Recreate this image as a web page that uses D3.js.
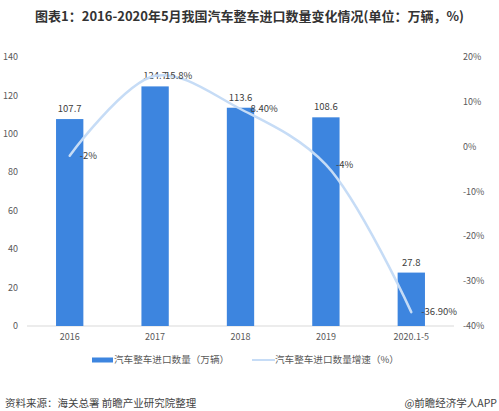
<!DOCTYPE html>
<html>
<head>
<meta charset="utf-8">
<script src="https://cdn.jsdelivr.net/npm/d3@7"></script>
<style>
  body { margin: 0; background: #fff; }
  svg { display: block; font-family: "Noto Sans CJK SC", "Noto Sans", sans-serif; }
</style>
</head>
<body>
<div id="chart"></div>
<script>
const categories = ["2016", "2017", "2018", "2019", "2020.1-5"];
const volumes = [107.7, 124.7, 113.6, 108.6, 27.8];
const growth = [-2, 15.8, 8.4, -4, -36.9];
const growthLabels = ["-2%", "15.8%", "8.40%", "-4%", "-36.90%"];
const leftTicks = [0, 20, 40, 60, 80, 100, 120, 140];
const rightTicks = [-40, -30, -20, -10, 0, 10, 20];

const width = 499, height = 411;
const margin = { left: 27, right: 45, top: 57, bottom: 85 };
const barColor = "#3d85df";
const lineColor = "#c6dcf6";
const textColor = "#595959";

const svg = d3.select("#chart").append("svg")
    .attr("width", width)
    .attr("height", height);

// title
svg.append("text")
    .attr("x", width / 2).attr("y", 21)
    .attr("text-anchor", "middle")
    .attr("font-size", "13px").attr("font-weight", "bold").attr("fill", "#333")
    .text("图表1：2016-2020年5月我国汽车整车进口数量变化情况(单位：万辆，%)");

const x = d3.scaleBand()
    .domain(categories)
    .range([margin.left, width - margin.right])
    .paddingInner(0.68).paddingOuter(0.34);

const y = d3.scaleLinear().domain([0, 140]).range([height - margin.bottom, margin.top]);
const y2 = d3.scaleLinear().domain([-40, 20]).range([height - margin.bottom, margin.top]);

// left axis labels
svg.append("g").selectAll("text")
    .data(leftTicks).join("text")
    .attr("x", 18).attr("y", d => y(d))
    .attr("dy", "0.35em").attr("text-anchor", "end")
    .attr("font-size", "9px").attr("fill", textColor)
    .text(d => d);

// right axis labels
svg.append("g").selectAll("text")
    .data(rightTicks).join("text")
    .attr("x", 463).attr("y", d => y2(d))
    .attr("dy", "0.35em").attr("text-anchor", "start")
    .attr("font-size", "9px").attr("fill", textColor)
    .text(d => d + "%");

// baseline
svg.append("line")
    .attr("x1", margin.left).attr("x2", width - margin.right)
    .attr("y1", y(0)).attr("y2", y(0))
    .attr("stroke", "#d9d9d9").attr("stroke-width", 1);

// category labels
svg.append("g").selectAll("text")
    .data(categories).join("text")
    .attr("x", d => x(d) + x.bandwidth() / 2).attr("y", y(0) + 11)
    .attr("dy", "0.35em").attr("text-anchor", "middle")
    .attr("font-size", "9px").attr("fill", textColor)
    .text(d => d);

// bars
svg.append("g").selectAll("rect")
    .data(volumes).join("rect")
    .attr("x", (d, i) => x(categories[i]))
    .attr("y", d => y(d))
    .attr("width", x.bandwidth())
    .attr("height", d => y(0) - y(d))
    .attr("fill", barColor);

svg.append("g").selectAll("text")
    .data(volumes).join("text")
    .attr("x", (d, i) => x(categories[i]) + x.bandwidth() / 2)
    .attr("y", d => y(d) - 7)
    .attr("text-anchor", "middle")
    .attr("font-size", "9.5px").attr("fill", "#404040")
    .text(d => d);

// growth line
const cx = i => x(categories[i]) + x.bandwidth() / 2;
const line = d3.line()
    .x((d, i) => cx(i))
    .y(d => y2(d))
    .curve(d3.curveCatmullRom.alpha(0.5));

svg.append("path")
    .datum(growth)
    .attr("d", line)
    .attr("fill", "none")
    .attr("stroke", lineColor)
    .attr("stroke-width", 2.5)
    .attr("stroke-linecap", "round");

svg.append("g").selectAll("text")
    .data(growth).join("text")
    .attr("x", (d, i) => cx(i) + 10)
    .attr("y", d => y2(d))
    .attr("dy", "0.35em")
    .attr("font-size", "9.5px").attr("fill", "#404040")
    .text((d, i) => growthLabels[i]);

// legend
const legend = svg.append("g").attr("transform", "translate(0, 360)");
legend.append("rect")
    .attr("x", 92).attr("y", -2.5).attr("width", 21).attr("height", 5)
    .attr("fill", barColor);
legend.append("text")
    .attr("x", 114).attr("dy", "0.35em")
    .attr("font-size", "9.6px").attr("fill", textColor)
    .text("汽车整车进口数量（万辆）");
legend.append("line")
    .attr("x1", 252).attr("x2", 275)
    .attr("stroke", lineColor).attr("stroke-width", 2);
legend.append("text")
    .attr("x", 275).attr("dy", "0.35em")
    .attr("font-size", "9.6px").attr("fill", textColor)
    .text("汽车整车进口数量增速（%）");

// source
svg.append("text")
    .attr("x", 5).attr("y", 403).attr("dy", "0.35em")
    .attr("font-size", "10.5px").attr("fill", "#444")
    .text("资料来源：海关总署 前瞻产业研究院整理");
svg.append("text")
    .attr("x", 497).attr("y", 403).attr("dy", "0.35em")
    .attr("text-anchor", "end")
    .attr("font-size", "10.5px").attr("fill", "#444")
    .text("@前瞻经济学人APP");
</script>
</body>
</html>
